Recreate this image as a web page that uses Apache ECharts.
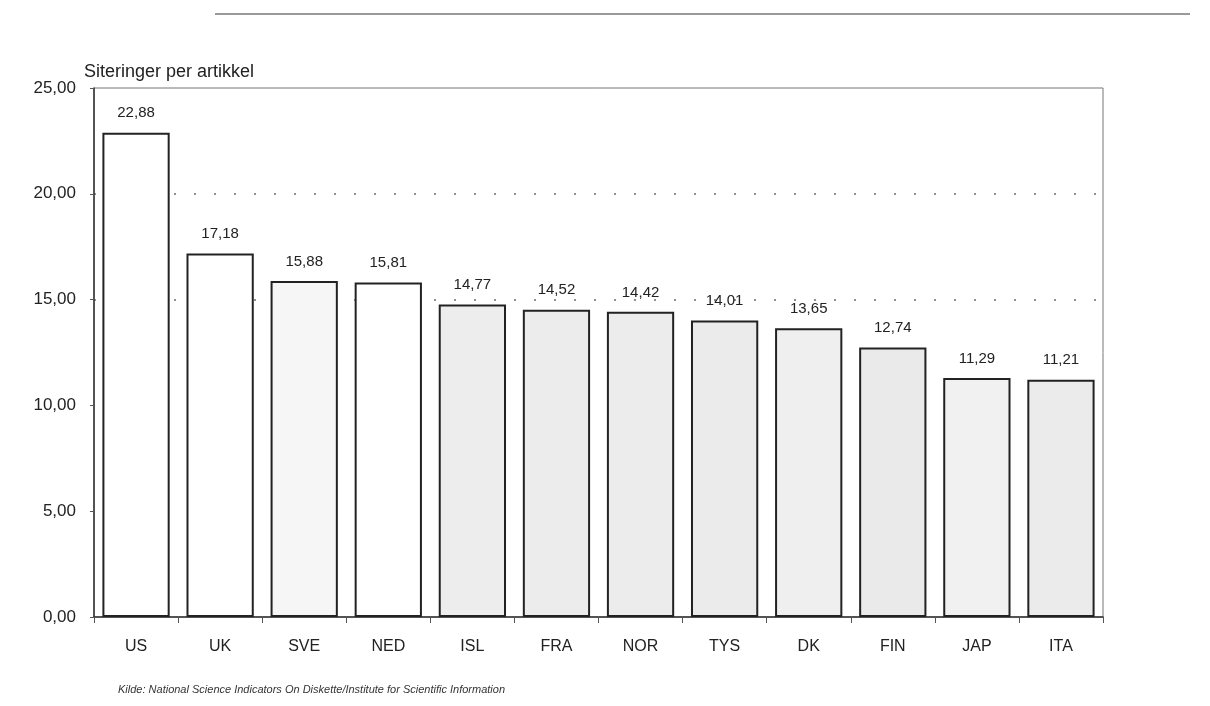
<!DOCTYPE html>
<html>
<head>
<meta charset="utf-8">
<script src="https://cdn.jsdelivr.net/npm/echarts@6/dist/echarts.min.js"></script>
<style>
  html, body { margin: 0; padding: 0; background: #fff; }
  #main { width: 1210px; height: 706px; }
</style>
</head>
<body>
<div id="main"></div>
<script>
var countries = ['US', 'UK', 'SVE', 'NED', 'ISL', 'FRA', 'NOR', 'TYS', 'DK', 'FIN', 'JAP', 'ITA']
var citations = [22.88, 17.18, 15.88, 15.81, 14.77, 14.52, 14.42, 14.01, 13.65, 12.74, 11.29, 11.21]
var yTicks = [0, 5, 10, 15, 20, 25]
var barFills = ['#ffffff', '#ffffff', '#f6f6f6', '#ffffff', '#ededed', '#ececec', '#ececec', '#ebebeb', '#efefef', '#eaeaea', '#f1f1f1', '#ebebeb']

function comma (v) {
  return Number(v).toFixed(2).replace('.', ',')
}

var chart = echarts.init(document.getElementById('main'))
var option = {
  animation: false,
  textStyle: { fontFamily: 'Liberation Sans, Arial, sans-serif' },
  grid: {
    left: 94,
    right: 107,
    top: 88,
    bottom: 89,
    show: true,
    borderColor: '#777',
    borderWidth: 1
  },
  title: {
    text: 'Siteringer per artikkel',
    left: 79,
    top: 58,
    textStyle: { fontSize: 18, fontWeight: 'normal', color: '#222' }
  },
  graphic: [
    {
      type: 'line',
      shape: { x1: 215, y1: 14, x2: 1190, y2: 14 },
      style: { stroke: '#9a9a9a', lineWidth: 2 }
    },
    {
      type: 'text',
      left: 118,
      top: 684,
      style: {
        text: 'Kilde: National Science Indicators On Diskette/Institute for Scientific Information',
        font: 'italic 11px Liberation Sans, Arial, sans-serif',
        fill: '#333'
      }
    }
  ],
  xAxis: {
    type: 'category',
    data: countries,
    axisLine: { lineStyle: { color: '#333', width: 1.5 } },
    axisTick: { show: true, length: 6, inside: false, lineStyle: { color: '#555' } },
    axisLabel: { color: '#222', fontSize: 16, margin: 22 }
  },
  yAxis: {
    type: 'value',
    min: yTicks[0],
    max: yTicks[yTicks.length - 1],
    interval: 5,
    axisLine: { show: true, lineStyle: { color: '#333', width: 1.5 } },
    axisTick: { show: true, length: 4, lineStyle: { color: '#555' } },
    axisLabel: { color: '#222', fontSize: 17, margin: 18, formatter: comma },
    splitLine: {
      show: true,
      lineStyle: {
        type: [2, 18],
        width: 2,
        color: ['transparent', 'transparent', 'transparent', '#8f8f8f', '#8f8f8f', 'transparent']
      }
    }
  },
  series: [{
    type: 'bar',
    barCategoryGap: '20%',
    data: citations.map(function (v, i) {
      return { value: v, itemStyle: { color: barFills[i] } }
    }),
    itemStyle: { borderColor: '#222', borderWidth: 2 },
    label: {
      show: true,
      position: 'top',
      distance: 12,
      color: '#222',
      fontSize: 15,
      formatter: function (p) { return comma(p.value) }
    }
  }]
}
chart.setOption(option)
</script>
</body>
</html>
